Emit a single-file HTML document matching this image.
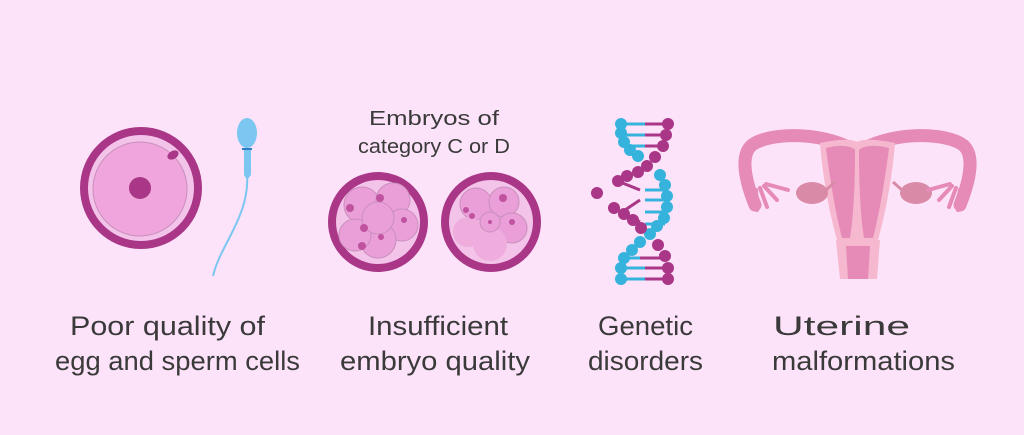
<!DOCTYPE html>
<html><head><meta charset="utf-8"><style>
html,body{margin:0;padding:0;background:#fde3f9;}
svg{display:block}
text{font-family:"Liberation Sans",sans-serif;fill:#3a3a3a}
</style></head><body>
<svg width="1024" height="435" viewBox="0 0 1024 435" xmlns="http://www.w3.org/2000/svg">
<rect width="1024" height="435" fill="#fde3f9"/>
<!-- egg -->
<circle cx="141" cy="188" r="61" fill="#a93687"/>
<circle cx="141" cy="188" r="53" fill="#f3c3ea"/>
<circle cx="140" cy="189" r="47" fill="#f0a6dc" stroke="#c98fbd" stroke-width="1"/>
<ellipse cx="173" cy="155" rx="6" ry="4" fill="#a93687" transform="rotate(-30 173 155)"/>
<circle cx="140" cy="188" r="11" fill="#a93687"/>
<!-- sperm -->
<path d="M247 145 C247 175 250 190 240 215 C230 240 218 255 213 276" stroke="#7cc6f2" stroke-width="2" fill="none"/>
<path d="M244 148 L251 148 L251 175 L247 180 L244 175 Z" fill="#7cc6f2"/>
<ellipse cx="247" cy="133" rx="10" ry="15" fill="#7cc6f2"/>
<rect x="242" y="148" width="10" height="2" fill="#2c7fc4"/>
<!-- embryos -->
<g>
<circle cx="378" cy="222" r="50" fill="#a93687"/>
<circle cx="378" cy="222" r="42" fill="#f3c3ea"/>
<circle cx="362" cy="205" r="18" fill="#ea9fd8" stroke="#c98fbd"/>
<circle cx="393" cy="200" r="17" fill="#ea9fd8" stroke="#c98fbd"/>
<circle cx="402" cy="225" r="16" fill="#ea9fd8" stroke="#c98fbd"/>
<circle cx="378" cy="240" r="18" fill="#ea9fd8" stroke="#c98fbd"/>
<circle cx="355" cy="235" r="16" fill="#ea9fd8" stroke="#c98fbd"/>
<circle cx="378" cy="218" r="16" fill="#ea9fd8" stroke="#c98fbd"/>
<circle cx="350" cy="208" r="4" fill="#c0529f"/><circle cx="380" cy="198" r="4" fill="#c0529f"/><circle cx="364" cy="228" r="4" fill="#c0529f"/><circle cx="381" cy="237" r="3" fill="#c0529f"/><circle cx="362" cy="246" r="4" fill="#c0529f"/><circle cx="404" cy="220" r="3" fill="#c0529f"/>
</g>
<g>
<circle cx="491" cy="222" r="50" fill="#a93687"/>
<circle cx="491" cy="222" r="42" fill="#f3c3ea"/>
<circle cx="476" cy="204" r="16" fill="#ea9fd8" stroke="#c98fbd"/>
<circle cx="504" cy="202" r="15" fill="#ea9fd8" stroke="#c98fbd"/>
<circle cx="512" cy="228" r="15" fill="#ea9fd8" stroke="#c98fbd"/>
<circle cx="490" cy="244" r="17" fill="#eeaddd"/>
<circle cx="468" cy="232" r="15" fill="#eeaddd"/>
<circle cx="490" cy="222" r="10" fill="#ea9fd8" stroke="#c98fbd"/>
<circle cx="466" cy="210" r="3" fill="#c0529f"/><circle cx="472" cy="216" r="3" fill="#c0529f"/><circle cx="503" cy="198" r="4" fill="#c0529f"/><circle cx="512" cy="222" r="3" fill="#c0529f"/><circle cx="490" cy="222" r="2" fill="#c0529f"/>
</g>
<!-- DNA -->
<g stroke-width="3">
<g stroke="#a93687"><line x1="645" y1="124" x2="668" y2="124"/><line x1="645" y1="135" x2="666" y2="135"/><line x1="645" y1="146" x2="663" y2="146"/><line x1="640" y1="258" x2="665" y2="258"/><line x1="645" y1="268" x2="668" y2="268"/><line x1="645" y1="279" x2="668" y2="279"/>
<line x1="615" y1="180" x2="640" y2="190"/><line x1="625" y1="210" x2="640" y2="200"/><line x1="614" y1="208" x2="640" y2="222"/></g>
<g stroke="#35b3dc"><line x1="621" y1="124" x2="645" y2="124"/><line x1="621" y1="135" x2="645" y2="135"/><line x1="625" y1="146" x2="645" y2="146"/><line x1="620" y1="258" x2="640" y2="258"/><line x1="622" y1="268" x2="645" y2="268"/><line x1="621" y1="279" x2="645" y2="279"/>
<line x1="645" y1="190" x2="665" y2="190"/><line x1="645" y1="200" x2="666" y2="200"/><line x1="645" y1="212" x2="668" y2="212"/><line x1="645" y1="224" x2="665" y2="224"/></g>
</g>
<g fill="#35b3dc">
<circle cx="621" cy="124" r="6"/><circle cx="621" cy="133" r="6"/><circle cx="624" cy="142" r="6"/><circle cx="630" cy="150" r="6"/><circle cx="638" cy="156" r="6"/>
<circle cx="660" cy="175" r="6"/><circle cx="665" cy="185" r="6"/><circle cx="667" cy="196" r="6"/><circle cx="667" cy="207" r="6"/><circle cx="664" cy="218" r="6"/><circle cx="657" cy="226" r="6"/><circle cx="650" cy="234" r="6"/>
<circle cx="640" cy="242" r="6"/><circle cx="632" cy="250" r="6"/><circle cx="624" cy="258" r="6"/><circle cx="621" cy="268" r="6"/><circle cx="621" cy="279" r="6"/>
</g>
<g fill="#a93687">
<circle cx="668" cy="124" r="6"/><circle cx="666" cy="135" r="6"/><circle cx="663" cy="146" r="6"/><circle cx="655" cy="157" r="6"/><circle cx="647" cy="166" r="6"/><circle cx="638" cy="172" r="6"/><circle cx="627" cy="176" r="6"/><circle cx="618" cy="181" r="6"/>
<circle cx="597" cy="193" r="6"/>
<circle cx="614" cy="208" r="6"/><circle cx="624" cy="214" r="6"/><circle cx="633" cy="220" r="6"/><circle cx="641" cy="228" r="6"/>
<circle cx="658" cy="245" r="6"/><circle cx="665" cy="256" r="6"/><circle cx="668" cy="268" r="6"/><circle cx="668" cy="279" r="6"/>
</g>
<!-- uterus -->
<g>
<path d="M850 148 C820 132 770 132 752 145 C740 155 745 180 755 205" stroke="#e68ab8" stroke-width="13" fill="none" stroke-linecap="round"/>
<path d="M865 148 C895 132 945 132 963 145 C975 155 970 180 960 205" stroke="#e68ab8" stroke-width="13" fill="none" stroke-linecap="round"/>
<path d="M820 143 C835 140 850 138 857 142 C864 138 880 140 895 143 C892 180 885 215 878 240 L837 240 C830 215 823 180 820 143 Z" fill="#f5b8cf"/>
<path d="M826 148 C840 144 852 146 855 150 C855 190 853 220 850 238 L842 238 C836 215 830 180 826 148 Z" fill="#e68ab8"/>
<path d="M889 148 C875 144 862 146 859 150 C859 190 861 220 864 238 L873 238 C879 215 885 180 889 148 Z" fill="#e68ab8"/>
<path d="M836 240 L880 240 L877 279 L840 279 Z" fill="#f5b8cf"/>
<path d="M846 246 L870 246 L868 279 L848 279 Z" fill="#e68ab8"/>
<ellipse cx="812" cy="193" rx="16" ry="11" fill="#d98aa6"/>
<ellipse cx="916" cy="193" rx="16" ry="11" fill="#d98aa6"/>
<path d="M826 190 L835 182" stroke="#d98aa6" stroke-width="3"/>
<path d="M902 190 L893 182" stroke="#d98aa6" stroke-width="3"/>
<g stroke="#e68ab8" stroke-width="4" stroke-linecap="round">
<line x1="756" y1="190" x2="757" y2="210"/><line x1="760" y1="188" x2="767" y2="207"/><line x1="764" y1="186" x2="777" y2="200"/><line x1="766" y1="184" x2="788" y2="190"/>
<line x1="960" y1="190" x2="958" y2="210"/><line x1="956" y1="188" x2="949" y2="207"/><line x1="952" y1="186" x2="939" y2="200"/><line x1="950" y1="184" x2="928" y2="190"/>
</g>
</g>
<!-- text -->
<text x="434" y="125" font-size="20" text-anchor="middle" textLength="130" lengthAdjust="spacingAndGlyphs">Embryos of</text>
<text x="434" y="153" font-size="20" text-anchor="middle" textLength="152" lengthAdjust="spacingAndGlyphs">category C or D</text>
<g font-size="27">
<text x="70" y="335" textLength="195" lengthAdjust="spacingAndGlyphs">Poor quality of</text>
<text x="55" y="370" textLength="245" lengthAdjust="spacingAndGlyphs">egg and sperm cells</text>
<text x="368" y="335" textLength="140" lengthAdjust="spacingAndGlyphs">Insufficient</text>
<text x="340" y="370" textLength="190" lengthAdjust="spacingAndGlyphs">embryo quality</text>
<text x="598" y="335" textLength="95" lengthAdjust="spacingAndGlyphs">Genetic</text>
<text x="588" y="370" textLength="115" lengthAdjust="spacingAndGlyphs">disorders</text>
<text x="773" y="335" textLength="137" lengthAdjust="spacingAndGlyphs">Uterine</text>
<text x="772" y="370" textLength="183" lengthAdjust="spacingAndGlyphs">malformations</text>
</g>
</svg>
</body></html>
